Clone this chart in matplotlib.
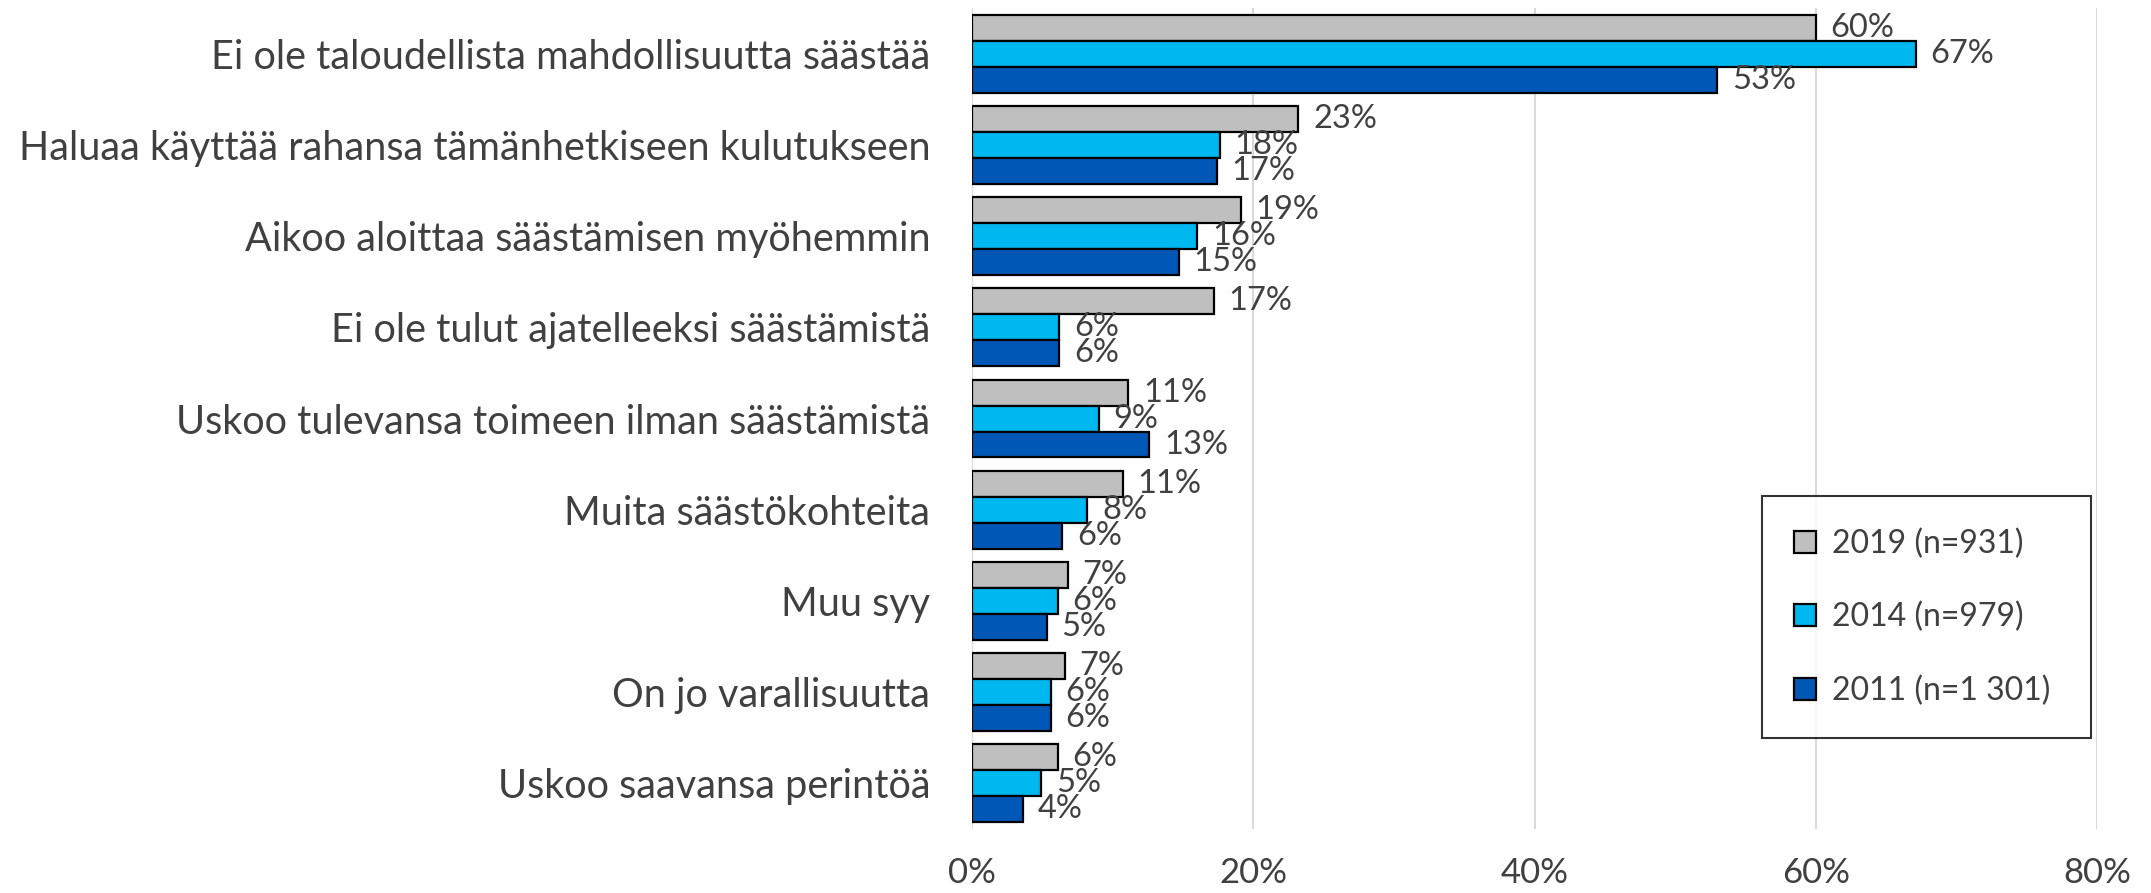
import matplotlib
matplotlib.use("Agg")
import matplotlib.pyplot as plt
import numpy as np

categories = [
    "Ei ole taloudellista mahdollisuutta säästää",
    "Haluaa käyttää rahansa tämänhetkiseen kulutukseen",
    "Aikoo aloittaa säästämisen myöhemmin",
    "Ei ole tulut ajatelleeksi säästämistä",
    "Uskoo tulevansa toimeen ilman säästämistä",
    "Muita säästökohteita",
    "Muu syy",
    "On jo varallisuutta",
    "Uskoo saavansa perintöä",
]
v2019 = [60.0, 23.2, 19.1, 17.2, 11.1, 10.7, 6.8, 6.6, 6.1]
v2014 = [67.1, 17.6, 16.0, 6.2, 9.0, 8.2, 6.1, 5.6, 4.9]
v2011 = [53.0, 17.4, 14.7, 6.2, 12.6, 6.4, 5.3, 5.6, 3.6]
series_labels = ["2019 (n=931)", "2014 (n=979)", "2011 (n=1 301)"]
colors = ["#BFBFBF", "#00B8F0", "#0057B5"]

plt.rcParams["font.family"] = ["Lato", "DejaVu Sans"]
txt = "#404040"

fig = plt.figure(figsize=(21.51, 8.93), dpi=100)
ax = fig.add_axes([0.4519, 0.0717, 0.5230, 0.9193])

y = np.arange(len(categories))
h = 0.285
for k, (vals, lab, col) in enumerate(zip([v2019, v2014, v2011], series_labels, colors)):
    pos = y + (k - 1) * h
    ax.barh(pos, vals, height=h, color=col, edgecolor="black", linewidth=1.6, label=lab, zorder=3)
    for p, v in zip(pos, vals):
        ax.text(v + 1.05, p, f"{round(v)}%", va="center", ha="left", fontsize=23.5, color=txt, zorder=4)

ax.set_xlim(0, 80)
ax.set_ylim(len(categories) - 0.5, -0.5)
ax.set_xticks([0, 20, 40, 60, 80])
ax.set_xticklabels(["0%", "20%", "40%", "60%", "80%"])
ax.set_yticks(y)
ax.set_yticklabels(categories)
ax.tick_params(axis="x", length=0, pad=20, labelsize=25, labelcolor=txt)
ax.tick_params(axis="y", length=0, pad=30, labelsize=28.5, labelcolor=txt)
ax.grid(axis="x", color="#D9D9D9", linewidth=1.5, zorder=0)
for s in ax.spines.values():
    s.set_visible(False)

leg = ax.legend(loc="lower left", bbox_to_anchor=(0.819, 0.1736, 0.153, 0.256),
                bbox_transform=fig.transFigure, mode="expand", borderaxespad=0,
                fontsize=23, handlelength=0.7, handleheight=0.7, labelspacing=1.35,
                borderpad=1.0, handletextpad=0.5, frameon=True, fancybox=False,
                labelcolor=txt)
leg.get_frame().set_edgecolor("black")
leg.get_frame().set_linewidth(1.5)

fig.savefig("out.png", dpi=100)
